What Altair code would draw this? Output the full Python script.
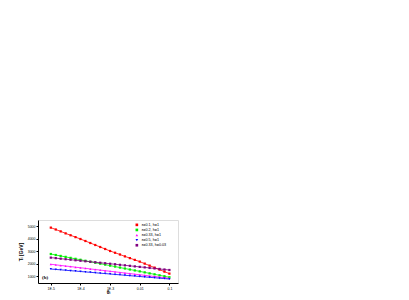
import altair as alt
import pandas as pd

x_vals = [1.0e-5, 1.47e-5, 2.15e-5, 3.16e-5, 4.64e-5, 6.81e-5,
          1.0e-4, 1.47e-4, 2.15e-4, 3.16e-4, 4.64e-4, 6.81e-4,
          1.0e-3, 1.47e-3, 2.15e-3, 3.16e-3, 4.64e-3, 6.81e-3,
          1.0e-2, 1.47e-2, 2.15e-2, 3.16e-2, 4.64e-2, 6.81e-2, 1.0e-1]

series_names = ["ε=0.1,  h=1", "ε=0.2,  h=1", "ε=0.33, h=1", "ε=0.5,  h=1", "ε=0.33, h=0.03"]
series_colors = ["#ff0000", "#00ee00", "#ff00ff", "#0000ff", "#800080"]
series_shapes = ["square", "square", "triangle-up", "triangle-down", "square"]

red = [4890, 4740, 4590, 4430, 4280, 4130, 3980, 3820, 3660, 3500, 3340, 3180, 3020,
       2880, 2740, 2590, 2450, 2310, 2170, 2010, 1850, 1690, 1530, 1370, 1210]
green = [2780, 2700, 2625, 2550, 2470, 2395, 2320, 2240, 2160, 2085, 2005, 1930, 1850,
         1775, 1695, 1620, 1540, 1465, 1390, 1310, 1230, 1155, 1075, 1000, 920]
magenta = [1960, 1915, 1865, 1820, 1775, 1725, 1680, 1635, 1585, 1540, 1495, 1445, 1400,
           1355, 1305, 1260, 1215, 1165, 1120, 1075, 1025, 980, 935, 885, 840]
blue = [1580, 1545, 1515, 1480, 1445, 1415, 1380, 1345, 1315, 1280, 1245, 1215, 1180,
        1145, 1115, 1080, 1045, 1015, 980, 945, 915, 880, 845, 815, 780]
purple = [2490, 2450, 2405, 2365, 2325, 2280, 2240, 2200, 2160, 2120, 2080, 2040, 2000,
          1960, 1915, 1875, 1835, 1790, 1750, 1710, 1665, 1625, 1585, 1540, 1500]

series_values = [red, green, magenta, blue, purple]

rows = []
for name, vals in zip(series_names, series_values):
    for xv, yv in zip(x_vals, vals):
        rows.append({"x": xv, "T": yv, "series": name})
df = pd.DataFrame(rows)

x_ticks = [1e-5, 1e-4, 1e-3, 1e-2, 1e-1]
label_expr = ("datum.value < 5e-5 ? '1E-5' : datum.value < 5e-4 ? '1E-4' : "
              "datum.value < 5e-3 ? '1E-3' : datum.value < 5e-2 ? '0.01' : '0.1'")

xenc = alt.X("x:Q", scale=alt.Scale(type="log", domain=[3.7e-6, 0.195], nice=False),
             axis=alt.Axis(values=x_ticks, labelExpr=label_expr, title="θᵢ",
                           labelFontSize=3.5, titleFontSize=5, tickSize=2,
                           labelPadding=1, titlePadding=0, grid=False,
                           domainColor="black", tickColor="black"))
yenc = alt.Y("T:Q", scale=alt.Scale(domain=[460, 5500], nice=False),
             axis=alt.Axis(values=[1000, 2000, 3000, 4000, 5000], format="d", title="Tᵢ [GeV]",
                           labelFontSize=3.5, titleFontSize=5, tickSize=2,
                           labelPadding=1, titlePadding=4, grid=False,
                           domainColor="black", tickColor="black"))
leg = alt.Legend(title=None, orient="none", legendX=97, legendY=3,
                 labelFontSize=3.7, symbolSize=7, rowPadding=0.1,
                 labelOffset=3, symbolStrokeWidth=0, labelLimit=80)
color = alt.Color("series:N", scale=alt.Scale(domain=series_names, range=series_colors),
                  legend=leg)
shape = alt.Shape("series:N", scale=alt.Scale(domain=series_names, range=series_shapes),
                  legend=leg)

lines = alt.Chart(df).mark_line(strokeWidth=0.8).encode(
    x=xenc, y=yenc, color=color, detail="series:N")
points = alt.Chart(df).mark_point(filled=True, size=5, opacity=1).encode(
    x=xenc, y=yenc, color=color, shape=shape)
label = alt.Chart(pd.DataFrame({"t": ["(b)"]})).mark_text(
    fontSize=5, fontWeight="bold", align="left", font="Liberation Serif").encode(
    x=alt.value(4), y=alt.value(57), text="t:N")

chart = alt.layer(lines, points, label).properties(
    width=140, height=63,
    autosize=alt.AutoSizeParams(type="none"),
    padding={"left": 30, "top": 212, "right": 10, "bottom": 14},
).configure_view(stroke="black", strokeWidth=0.8).configure(background="white")

chart.save("out.html", embed_options={"renderer": "svg", "actions": False})
